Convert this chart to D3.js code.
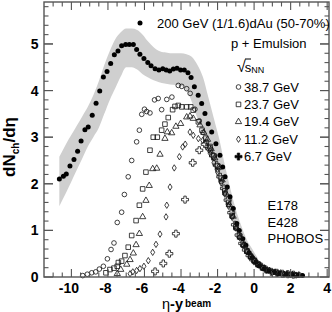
<!DOCTYPE html>
<html><head><meta charset="utf-8">
<script src="https://cdn.jsdelivr.net/npm/d3@7"></script>
<style>body{margin:0;background:#fff}svg{display:block}text{font-family:"Liberation Sans",Arial,Helvetica,sans-serif}</style>
</head><body>
<svg id="c" width="332" height="312"></svg>
<script>
// ---- data ----
const xTicks = [-10, -8, -6, -4, -2, 0, 2, 4];
const yTicks = [0, 1, 2, 3, 4, 5];
const xTickLabels = ["-10", "-8", "-6", "-4", "-2", "0", "2", "4"];
const yTickLabels = ["0", "1", "2", "3", "4", "5"];

// PHOBOS 200 GeV (1/1.6) dAu (50-70%)
const dAu = [[-10.66,2.10],[-10.44,2.16],[-10.28,2.21],[-10.08,2.38],[-9.86,2.52],[-9.66,2.70],[-9.47,2.92],[-9.26,3.16],[-9.08,3.22],[-8.86,3.47],[-8.65,3.73],[-8.45,3.99],[-8.25,4.29],[-8.05,4.41],[-7.85,4.58],[-7.65,4.77],[-7.45,4.85],[-7.25,4.96],[-7.03,4.99],[-6.83,4.99],[-6.61,4.99],[-6.43,4.88],[-6.25,4.78],[-6.03,4.69],[-5.82,4.60],[-5.64,4.53],[-5.42,4.47],[-5.21,4.44],[-5.0,4.47],[-4.81,4.44],[-4.62,4.42],[-4.42,4.46],[-4.22,4.48],[-4.02,4.44],[-3.82,4.44],[-3.62,4.38],[-3.45,4.28],[-3.27,4.08],[-3.06,3.90],[-2.87,3.72],[-2.69,3.51],[-2.51,3.29],[-2.32,3.11],[-2.09,2.86],[-1.87,2.61],[-1.72,2.36],[-1.59,2.15],[-1.47,1.93],[-1.32,1.72],[-1.14,1.47],[-0.95,1.15],[-0.81,1.0],[-0.62,0.82],[-0.45,0.68],[-0.27,0.52],[-0.1,0.42],[0.1,0.32],[0.3,0.24],[0.55,0.17],[0.8,0.13],[1.1,0.1],[1.4,0.08],[1.75,0.06],[2.1,0.05],[2.4,0.04],[2.65,0.03]];

// systematic error band of dAu
const bandX  = [-10.66,-10.3,-10.0,-9.7,-9.4,-9.1,-8.8,-8.5,-8.2,-7.9,-7.6,-7.3,-7.0,-6.7,-6.4,-6.1,-5.8,-5.5,-5.2,-4.9,-4.6,-4.3,-4.0,-3.7,-3.4,-3.1,-2.8,-2.5,-2.2,-1.9,-1.6,-1.3,-1.0,-0.7,-0.4,-0.1,0.2];
const bandHi = [2.58,2.85,3.05,3.25,3.45,3.65,3.9,4.2,4.55,4.85,5.1,5.25,5.33,5.33,5.3,5.2,5.05,4.93,4.85,4.82,4.8,4.8,4.8,4.78,4.72,4.55,4.29,3.85,3.4,2.95,2.4,1.9,1.45,1.1,0.8,0.6,0.4];
const bandLo = [1.52,1.8,2.05,2.3,2.55,2.8,3.0,3.2,3.5,3.8,4.05,4.3,4.5,4.5,4.45,4.35,4.28,4.22,4.18,4.15,4.13,4.12,4.1,4.0,3.75,3.4,3.05,2.7,2.35,2.0,1.65,1.3,0.98,0.72,0.5,0.32,0.2];

// p + Emulsion
const e387 = [[-9.38,0.03],[-9.13,0.06],[-8.89,0.09],[-8.67,0.11],[-8.47,0.17],[-8.25,0.23],[-8.03,0.39],[-7.83,0.59],[-7.67,0.73],[-7.49,1.17],[-7.25,1.39],[-7.1,1.77],[-6.89,2.15],[-6.7,2.5],[-6.43,2.9],[-6.28,3.15],[-6.15,3.49],[-6.0,3.6],[-5.88,3.55],[-5.7,3.52],[-5.45,3.8],[-5.25,3.83],[-5.06,3.59],[-4.78,3.81],[-4.5,3.86],[-4.15,4.11],[-3.96,4.09],[-3.69,4.04],[-3.5,3.94],[-3.24,3.6],[-3.0,3.35],[-2.8,3.1],[-2.6,2.9],[-2.4,2.7],[-2.2,2.55],[-2.0,2.3],[-1.8,2.05],[-1.6,1.8],[-1.4,1.55],[-1.2,1.3],[-1.0,1.05],[-0.8,0.85],[-0.6,0.68],[-0.4,0.55],[-0.2,0.44],[0.0,0.35],[0.2,0.27],[0.45,0.2],[0.7,0.14],[1.0,0.1],[1.3,0.08],[1.6,0.07],[1.9,0.06],[2.2,0.05],[2.5,0.04]];
const e237 = [[-8.11,0.09],[-7.89,0.16],[-7.67,0.19],[-7.49,0.23],[-7.43,0.31],[-7.25,0.34],[-7.07,0.46],[-6.89,0.64],[-6.7,0.89],[-6.46,1.21],[-6.28,1.54],[-6.1,1.89],[-5.92,2.25],[-5.7,2.72],[-5.52,3.0],[-5.3,3.0],[-5.06,3.15],[-4.88,3.28],[-4.7,3.42],[-4.46,3.59],[-4.33,3.66],[-4.15,3.68],[-3.96,3.65],[-3.69,3.65],[-3.47,3.65],[-3.33,3.58],[-3.05,3.33],[-2.85,3.15],[-2.65,2.98],[-2.41,2.8],[-2.2,2.6],[-2.0,2.38],[-1.8,2.12],[-1.6,1.85],[-1.4,1.6],[-1.2,1.32],[-1.0,1.08],[-0.8,0.88],[-0.6,0.7],[-0.4,0.56],[-0.2,0.45],[0.0,0.36],[0.25,0.27],[0.5,0.2],[0.75,0.15],[1.05,0.11],[1.35,0.08],[1.7,0.06],[2.0,0.05],[2.35,0.04]];
const e194 = [[-7.49,0.07],[-7.3,0.16],[-6.97,0.27],[-6.79,0.37],[-6.61,0.51],[-6.46,0.69],[-6.28,0.93],[-6.1,1.29],[-5.92,1.64],[-5.74,1.96],[-5.55,2.32],[-5.33,2.33],[-5.15,2.63],[-4.88,2.97],[-4.75,3.11],[-4.51,3.09],[-4.28,3.23],[-4.02,3.29],[-3.69,3.43],[-3.51,3.45],[-3.33,3.4],[-2.96,3.26],[-2.75,3.1],[-2.55,2.95],[-2.35,2.75],[-2.15,2.55],[-1.95,2.35],[-1.75,2.08],[-1.55,1.8],[-1.35,1.55],[-1.15,1.3],[-0.95,1.05],[-0.75,0.85],[-0.55,0.68],[-0.35,0.55],[-0.15,0.43],[0.05,0.34],[0.3,0.26],[0.55,0.19],[0.85,0.13],[1.15,0.1],[1.45,0.08],[1.8,0.06],[2.1,0.05],[2.45,0.04]];
const e112 = [[-6.79,0.07],[-6.64,0.11],[-6.43,0.14],[-6.25,0.18],[-6.03,0.23],[-5.79,0.35],[-5.55,0.53],[-5.37,0.70],[-5.15,0.92],[-4.82,1.29],[-4.78,1.54],[-4.6,1.93],[-4.37,2.34],[-4.09,2.58],[-3.91,2.79],[-3.77,2.85],[-3.51,3.11],[-3.33,3.04],[-3.05,2.97],[-2.81,2.93],[-2.6,2.8],[-2.4,2.65],[-2.2,2.45],[-2.0,2.25],[-1.8,2.02],[-1.6,1.78],[-1.4,1.52],[-1.2,1.28],[-1.0,1.05],[-0.8,0.85],[-0.6,0.68],[-0.4,0.54],[-0.2,0.43],[0.0,0.34],[0.2,0.27],[0.45,0.2],[0.7,0.15],[1.0,0.1],[1.3,0.08],[1.65,0.06],[2.0,0.05],[2.3,0.04]];
const e67 = [[-5.42,0.12],[-4.97,0.29],[-4.64,0.5],[-4.28,0.93],[-3.78,1.66],[-3.36,2.45],[-3.0,2.72],[-2.7,2.85],[-2.45,2.75],[-2.25,2.6],[-2.05,2.4],[-1.85,2.15],[-1.65,1.9],[-1.45,1.65],[-1.25,1.38],[-1.05,1.12],[-0.85,0.9],[-0.65,0.72],[-0.45,0.58],[-0.25,0.46],[-0.05,0.37],[0.15,0.29],[0.4,0.22],[0.65,0.16],[0.95,0.11],[1.25,0.09],[1.55,0.07],[1.85,0.06],[2.15,0.05]];

const legendLabels = ["38.7 GeV", "23.7 GeV", "19.4 GeV", "11.2 GeV", "6.7 GeV"];
const expLabels = ["E178", "E428", "PHOBOS"];

// ---- drawing ----
const W = 332, H = 312;
const m = {l: 44, r: 3, t: 2, b: 35};
const svg = d3.select("#c");
const x = d3.scaleLinear().domain([-11.5, 4.1]).range([m.l, W - m.r]);
const y = d3.scaleLinear().domain([0, 5.9]).range([H - m.b, m.t]);
const axisCol = "#555";

// band
const band = bandX.map((v, i) => ({x: v, lo: bandLo[i], hi: bandHi[i]}));
svg.append("path").datum(band)
  .attr("d", d3.area().x(d => x(d.x)).y0(d => y(d.lo)).y1(d => y(d.hi)).curve(d3.curveMonotoneX))
  .attr("fill", "#cfcfcf");

// symbol shapes
const sym = {
  circle: d3.symbol().type(d3.symbolCircle).size(17),
  square: d3.symbol().type(d3.symbolSquare).size(21),
  triangle: d3.symbol().type(d3.symbolTriangle).size(17),
};
const diamondPath = "M0,-3.2L2,0L0,3.2L-2,0Z";
const crossPath = "M-1.2,-3.5H1.2V-1.2H3.5V1.2H1.2V3.5H-1.2V1.2H-3.5V-1.2H-1.2Z";
function drawSeries(data, type) {
  const g = svg.append("g");
  g.selectAll("path").data(data).join("path")
    .attr("transform", d => `translate(${x(d[0])},${y(d[1])})`)
    .attr("d", type === "diamond" ? diamondPath : type === "cross" ? crossPath : sym[type]())
    .attr("fill", "none").attr("stroke", "#111").attr("stroke-width", 0.8);
}

// dAu dots
svg.append("g").selectAll("circle").data(dAu).join("circle")
  .attr("cx", d => x(d[0])).attr("cy", d => y(d[1])).attr("r", 2.5).attr("fill", "#000");

drawSeries(e387, "circle");
drawSeries(e237, "square");
drawSeries(e194, "triangle");
drawSeries(e112, "diamond");
drawSeries(e67, "cross");

// frame and ticks
const x0 = x.range()[0], x1 = x.range()[1], y0 = y.range()[0], y1 = y.range()[1];
svg.append("rect").attr("x", x0).attr("y", y1).attr("width", x1 - x0).attr("height", y0 - y1)
  .attr("fill", "none").attr("stroke", axisCol).attr("stroke-width", 1.4);
const xMinor = d3.range(-11, 4.01, 0.5);
const yMinor = d3.range(0.2, 5.85, 0.2);
const tg = svg.append("g").attr("stroke", axisCol).attr("stroke-width", 1.1);
xMinor.forEach(v => {
  const major = xTicks.includes(v);
  const L = major ? 8 : 4.5;
  tg.append("line").attr("x1", x(v)).attr("x2", x(v)).attr("y1", y0).attr("y2", y0 - L);
  tg.append("line").attr("x1", x(v)).attr("x2", x(v)).attr("y1", y1).attr("y2", y1 + L);
});
yMinor.concat(yTicks).forEach(v => {
  const major = yTicks.some(t => Math.abs(t - v) < 1e-6);
  const L = major ? 9 : 4.5;
  tg.append("line").attr("y1", y(v)).attr("y2", y(v)).attr("x1", x0).attr("x2", x0 + L);
  tg.append("line").attr("y1", y(v)).attr("y2", y(v)).attr("x1", x1).attr("x2", x1 - L);
});

// tick labels
svg.append("g").selectAll("text").data(xTicks).join("text")
  .attr("x", d => x(d) - (d < 0 ? 2.5 : 0)).attr("y", 292.5)
  .attr("text-anchor", "middle").attr("font-size", 14).attr("font-weight", "bold")
  .text((d, i) => xTickLabels[i]);
svg.append("g").selectAll("text").data(yTicks).join("text")
  .attr("x", 38.5).attr("y", d => y(d) + 5)
  .attr("text-anchor", "end").attr("font-size", 14).attr("font-weight", "bold")
  .text((d, i) => yTickLabels[i]);

// axis titles
const yt = svg.append("text").attr("transform", "translate(15,147) rotate(-90)")
  .attr("text-anchor", "middle").attr("font-weight", "bold").attr("font-size", 17);
yt.append("tspan").text("dN");
yt.append("tspan").attr("font-size", 10).attr("dy", 4).text("ch");
yt.append("tspan").attr("dy", -4).text("/dη");

const xt = svg.append("text").attr("x", 162).attr("y", 308.6).attr("font-size", 14.5);
xt.append("tspan").text("η");
xt.append("tspan").attr("font-weight", "bold").text("-y");
xt.append("tspan").attr("font-size", 10).attr("font-weight", "bold").attr("dx", 2).attr("dy", -2).text("beam");

// legend
svg.append("circle").attr("cx", 140).attr("cy", 23).attr("r", 2.5).attr("fill", "#000");
svg.append("text").attr("x", 157).attr("y", 28).attr("font-size", 13)
  .text("200 GeV (1/1.6)dAu (50-70%)");
svg.append("text").attr("x", 231).attr("y", 48).attr("font-size", 13).text("p + Emulsion");
const rt = svg.append("text").attr("x", 237).attr("y", 72);
rt.append("tspan").attr("font-size", 16).text("√");
rt.append("tspan").attr("font-size", 13).attr("dx", -1).text("s");
rt.append("tspan").attr("font-size", 9).attr("dy", 1).text("NN");
svg.append("line").attr("x1", 245).attr("x2", 251).attr("y1", 59).attr("y2", 59).attr("stroke", "#000").attr("stroke-width", 1);

const legTypes = ["circle", "square", "triangle", "diamond", "cross"];
legendLabels.forEach((lab, i) => {
  const cy = 87 + i * 17.4;
  const t = legTypes[i];
  svg.append("path").attr("transform", `translate(238.5,${cy})`)
    .attr("d", t === "diamond" ? diamondPath : t === "cross" ? crossPath : sym[t]())
    .attr("fill", t === "cross" ? "#000" : "none").attr("stroke", "#111").attr("stroke-width", 0.8);
  svg.append("text").attr("x", 244).attr("y", cy + 4.5).attr("font-size", 13).text(lab);
});
expLabels.forEach((lab, i) => {
  svg.append("text").attr("x", 267.5).attr("y", 210 + i * 16.5).attr("font-size", 13).text(lab);
});
</script>
</body></html>
